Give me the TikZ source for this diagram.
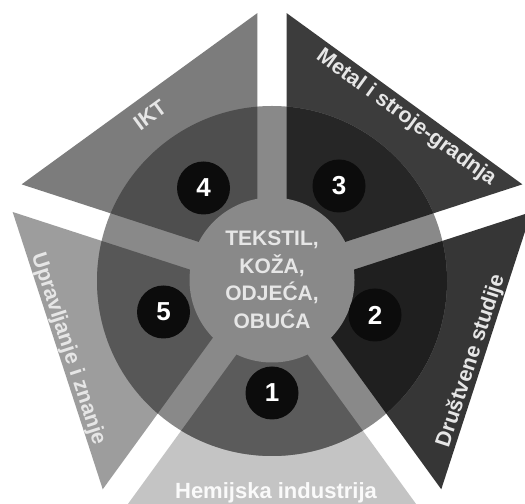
\documentclass[tikz,border=0pt]{standalone}
\usepackage{fontspec}
\setmainfont{Liberation Sans}
\definecolor{cIKT}{HTML}{7C7C7C}
\definecolor{cMet}{HTML}{3C3C3C}
\definecolor{cDru}{HTML}{363636}
\definecolor{cHem}{HTML}{C4C4C4}
\definecolor{cUpr}{HTML}{9D9D9D}
\definecolor{rIKT}{HTML}{4E4E4E}
\definecolor{rMet}{HTML}{262626}
\definecolor{rDru}{HTML}{1F1F1F}
\definecolor{rHem}{HTML}{5B5B5B}
\definecolor{rUpr}{HTML}{575757}
\definecolor{cSpoke}{HTML}{898989}
\definecolor{cTxt}{HTML}{E6E6E6}
\definecolor{cNum}{HTML}{0C0C0C}
\begin{document}
\begin{tikzpicture}[x=1bp,y=1bp,
  lab/.style={text=cTxt, inner sep=0pt, font=\fontsize{21.5bp}{24bp}\selectfont\bfseries},
  numc/.style={circle, fill=cNum, minimum size=53bp, inner sep=0pt, text=white,
    font=\fontsize{26bp}{26bp}\selectfont\bfseries},
  hubst/.style={circle, fill=cSpoke, minimum size=165bp, inner sep=0pt, text=cTxt,
    align=center, font=\fontsize{21bp}{27.5bp}\selectfont\bfseries}]
\useasboundingbox (0,0) rectangle (525,504);
\clip (0,0) rectangle (525,504);
\fill[white] (0,0) rectangle (525,504);
\def\R{248}
\def\D{24.7}
\begin{scope}[shift={(272,223)}]
  % exploded pentagon sectors
  \foreach \a/\b/\c in {90/162/cIKT, 18/90/cMet, -54/18/cDru, -126/-54/cHem, 162/234/cUpr}{
    \pgfmathsetmacro\m{(\a+\b)/2}
    \fill[\c, shift={(\m:\D)}] (0,0) -- (\a:\R) -- (\b:\R) -- cycle;
  }
  % ring background (spokes)
  \fill[cSpoke] (0,0) circle (175);
  % ring sectors
  \foreach \a/\b/\c in {90/162/rIKT, 18/90/rMet, -54/18/rDru, -126/-54/rHem, 162/234/rUpr}{
    \pgfmathsetmacro\m{(\a+\b)/2}
    \begin{scope}
      \clip[shift={(\m:\D)}] (0,0) -- (\a:\R) -- (\b:\R) -- cycle;
      \fill[\c] (0,0) circle (175);
    \end{scope}
  }
  % hub
  \node[hubst] (hub) at (0,1) {TEKSTIL,\\KOŽA,\\ODJEĆA,\\OBUĆA};
  % numbers
  \node[numc] (n1) at (0,-112) {1};
  \node[numc] (n2) at (103,-34) {2};
  \node[numc] (n3) at (67,95) {3};
  \node[numc] (n4) at (-68.5,93) {4};
  \node[numc] (n5) at (-108.5,-31) {5};
\end{scope}
% labels
\node[lab, rotate=36] (lIKT) at (150,389) {IKT};
\node[lab, rotate=-36] (lMet) at (406,386) {Metal i stroje-gradnja};
\node[lab, rotate=72] (lDru) at (471,143) {Društvene studije};
\node[lab, rotate=-72] (lUpr) at (68,155) {Upravljanje i znanje};
\node[lab, text=white!92!cHem, font=\fontsize{22bp}{24bp}\selectfont\bfseries] (lHem) at (276,11) {Hemijska industrija};
\end{tikzpicture}
\end{document}
